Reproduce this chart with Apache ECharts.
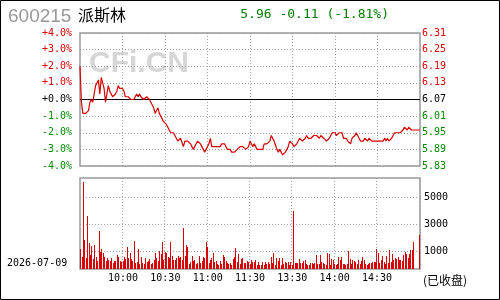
<!DOCTYPE html>
<html><head><meta charset="utf-8">
<script src="https://cdn.jsdelivr.net/npm/echarts@6/dist/echarts.min.js"></script>
<style>
html,body{margin:0;padding:0;background:#fff;}
#c{width:500px;height:300px;}
</style></head><body>
<div id="c"></div>
<script>
// ---- data ----
const stockCode = '600215';
const stockName = '派斯林';
const quoteText = '5.96 -0.11 (-1.81%)';
const tradeDate = '2026-07-09';
const statusText = '(已收盘)';
const watermark = 'CFi.CN';
const prevClose = 6.07;
const pctTicks = [-4, -3, -2, -1, 0, 1, 2, 3, 4];
const priceTicks = [5.83, 5.89, 5.95, 6.01, 6.07, 6.13, 6.19, 6.25, 6.31];
const volTicks = [1000, 3000, 5000];
const timeLabels = ['10:00', '10:30', '11:00', '11:30', '13:30', '14:00', '14:30'];

const prices = [
6.19,6.06,6.02,6.02,6.02,6.02,6.03,6.06,6.07,6.06,
6.09,6.12,6.13,6.14,6.09,6.15,6.13,6.11,6.06,6.09,
6.12,6.10,6.09,6.08,6.08,6.09,6.10,6.12,6.11,6.11,
6.11,6.10,6.08,6.08,6.08,6.08,6.07,6.07,6.07,6.07,
6.09,6.08,6.09,6.08,6.08,6.07,6.07,6.08,6.08,6.07,
6.06,6.05,6.04,6.02,6.03,6.04,6.02,6.01,6.00,5.99,
5.99,5.98,5.97,5.96,5.95,5.95,5.95,5.94,5.93,5.92,
5.92,5.93,5.93,5.90,5.92,5.92,5.92,5.92,5.91,5.90,
5.89,5.90,5.91,5.92,5.92,5.91,5.90,5.89,5.88,5.89,
5.89,5.91,5.93,5.90,5.90,5.90,5.90,5.90,5.90,5.90,
5.91,5.91,5.91,5.90,5.89,5.89,5.89,5.88,5.88,5.88,
5.88,5.89,5.89,5.90,5.90,5.90,5.90,5.89,5.89,5.90,
5.92,5.92,5.90,5.91,5.90,5.89,5.89,5.89,5.89,5.89,
5.91,5.91,5.91,5.91,5.92,5.94,5.94,5.92,5.92,5.89,
5.88,5.89,5.88,5.87,5.87,5.88,5.89,5.90,5.92,5.92,
5.91,5.90,5.90,5.91,5.92,5.93,5.93,5.92,5.92,5.93,
5.94,5.93,5.93,5.93,5.93,5.94,5.94,5.94,5.94,5.93,
5.94,5.94,5.93,5.93,5.92,5.92,5.93,5.94,5.95,5.95,
5.95,5.94,5.94,5.95,5.95,5.95,5.93,5.93,5.93,5.92,
5.92,5.91,5.93,5.93,5.94,5.95,5.95,5.93,5.92,5.92,
5.92,5.93,5.93,5.92,5.93,5.93,5.92,5.92,5.92,5.92,
5.92,5.92,5.92,5.92,5.92,5.93,5.92,5.93,5.92,5.92,
5.93,5.94,5.95,5.95,5.95,5.95,5.95,5.95,5.96,5.97,
5.97,5.96,5.97,5.97,5.96,5.96,5.96,5.96,5.96,5.96,
5.96
];

const volumes = [
1506,900,6444,2148,800,3926,1926,1012,1704,741,
1778,889,600,2815,1284,1481,1210,889,593,815,
667,568,815,444,568,568,1037,889,593,518,
600,914,741,1630,840,1160,741,593,2074,450,
518,1481,395,889,420,370,790,500,617,741,
395,469,667,1160,840,593,1309,1136,2000,667,
1259,1210,864,815,2000,963,667,667,790,963,
815,889,667,3037,963,1778,1630,370,500,963,
593,667,370,444,963,450,593,889,815,2000,
1630,444,667,815,1185,518,593,370,296,593,
370,1037,889,593,444,395,444,296,741,889,
1556,518,1111,370,741,815,444,444,593,518,
370,
667,518,518,667,296,518,296,296,518,296,
518,370,518,370,889,444,1185,296,815,593,
815,296,815,370,518,444,518,296,518,296,
4296,420,444,444,741,444,444,593,667,370,
296,296,444,444,370,420,1037,370,
370,1037,518,444,370,296,1185,1111,296,741,
667,370,296,370,889,667,889,370,370,296,
370,1309,741,370,667,593,518,370,667,370,
593,889,667,370,296,370,444,444,518,518,
518,1481,1185,444,667,963,518,370,963,
444,1407,518,1111,667,815,741,889,667,667,
593,1037,1259,1111,815,1111,1407,1407,2000,
0,0,0,2518
];

// time categories of the trading day (09:30-11:30, 13:01-15:00)
function hm(m){const h=Math.floor(m/60), mm=m%60; return (h<10?'0':'')+h+':'+(mm<10?'0':'')+mm;}
const times = [];
for (let m = 570; m <= 690; m++) times.push(hm(m));
for (let m = 781; m <= 900; m++) times.push(hm(m));

// table for the custom bar series: [category index, volume]
const volTable = volumes.map((v, i) => [i, v]);

// ---- styles ----
const RED = '#d80000', GREEN = '#008c00';
const MONO = '"DejaVu Sans Mono", monospace';
const dotted = { color: '#a0a0a0', width: 1, type: [1, 2] };
const isTimeTick = (i) => timeLabels.indexOf(times[i]) >= 0;

const chart = echarts.init(document.getElementById('c'), null, { renderer: 'canvas' });

function renderVolBar(params, api) {
  const top = api.coord([api.value(0), api.value(1)]);
  const base = api.coord([api.value(0), 0]);
  const x = Math.floor(top[0]);
  const y0 = Math.round(base[1]);
  const y1 = Math.round(top[1]);
  if (y0 - y1 <= 0) return null;
  return { type: 'rect', shape: { x: x, y: y1, width: 1, height: y0 - y1 }, style: { fill: RED } };
}

const option = {
  animation: false,
  backgroundColor: '#fff',
  grid: [
    { left: 80, top: 33, width: 340, height: 133, show: true, borderColor: '#999', borderWidth: 1.5, backgroundColor: 'transparent' },
    { left: 80, top: 178, width: 340, height: 91, show: true, borderColor: '#999', borderWidth: 1.5, backgroundColor: 'transparent' }
  ],
  xAxis: [
    { type: 'category', gridIndex: 0, data: times, boundaryGap: false,
      axisLine: { show: false }, axisTick: { show: false }, axisLabel: { show: false },
      splitLine: { show: true, interval: (i) => isTimeTick(i), lineStyle: dotted } },
    { type: 'category', gridIndex: 1, data: times, boundaryGap: true,
      axisLine: { show: false }, axisTick: { show: false },
      axisLabel: { show: true, interval: (i) => isTimeTick(i), color: '#000', fontFamily: MONO, fontSize: 10, margin: 4 },
      splitLine: { show: true, interval: (i) => isTimeTick(i), lineStyle: dotted } }
  ],
  yAxis: [
    { type: 'value', gridIndex: 0, position: 'left', min: pctTicks[0], max: pctTicks[pctTicks.length-1], interval: 1,
      axisLine: { show: false }, axisTick: { show: false },
      axisLabel: { margin: 8, fontFamily: MONO, fontSize: 10,
        formatter: (v) => (v >= 0 ? '+' : '') + Number(v).toFixed(1) + '%',
        color: (v) => { v = Number(v); return v > 0 ? RED : (v < 0 ? GREEN : '#000'); } },
      splitLine: { show: true, lineStyle: dotted } },
    { type: 'value', gridIndex: 0, position: 'right', min: priceTicks[0], max: priceTicks[priceTicks.length-1],
      axisLine: { show: false }, axisTick: { show: false, customValues: priceTicks },
      axisLabel: { customValues: priceTicks, margin: 2, fontFamily: MONO, fontSize: 10,
        formatter: (v) => Number(v).toFixed(2),
        color: (v) => { v = Number(v); return v > prevClose + 0.005 ? RED : (v < prevClose - 0.005 ? GREEN : '#000'); } },
      splitLine: { show: false } },
    { type: 'value', gridIndex: 1, position: 'left', min: 0, max: 6740, show: false, splitLine: { show: false } },
    { type: 'value', gridIndex: 1, position: 'right', min: -333, max: 6407,
      axisLine: { show: false }, axisTick: { show: false, customValues: volTicks },
      axisLabel: { customValues: volTicks, margin: 4, fontFamily: MONO, fontSize: 10, color: '#000',
        formatter: (v) => String(Math.round(v)) },
      splitLine: { show: true, lineStyle: dotted } }
  ],
  series: [
    { type: 'line', xAxisIndex: 0, yAxisIndex: 1, data: prices, showSymbol: false, symbol: 'none',
      lineStyle: { color: RED, width: 1.2 }, z: 5,
      markLine: { silent: true, symbol: 'none', label: { show: false },
        lineStyle: { color: '#000', width: 1, type: 'solid' }, data: [{ yAxis: prevClose }] } },
    { type: 'custom', xAxisIndex: 1, yAxisIndex: 2, data: volTable, renderItem: renderVolBar,
      encode: { x: 0, y: 1 }, z: 5, clip: true }
  ],
  graphic: [
    { type: 'rect', shape: { x: 0.5, y: 0.5, width: 499, height: 299 }, style: { fill: null, stroke: '#000', lineWidth: 1 }, z: 100 },
    { type: 'text', z: -10, style: { text: watermark, x: 89, y: 64, font: 'bold 30px "Liberation Sans", Arial', fill: '#d6d6d6', verticalAlign: 'middle' } },
    { type: 'text', style: { text: stockCode, x: 8, y: 17, font: '19px "Liberation Sans", Arial', fill: '#999', verticalAlign: 'middle' } },
    { type: 'text', style: { text: stockName, x: 78, y: 15, font: '16px "Noto Sans CJK SC"', fill: '#000', verticalAlign: 'middle' } },
    { type: 'text', style: { text: quoteText, x: 389, y: 15, font: '13px "DejaVu Sans Mono"', fill: '#008000', align: 'right', verticalAlign: 'middle' } },
    { type: 'text', style: { text: tradeDate, x: 7, y: 263, font: '10px "DejaVu Sans Mono"', fill: '#000', verticalAlign: 'middle' } },
    { type: 'text', style: { text: statusText, x: 423, y: 280, font: '12px "Noto Sans CJK SC"', fill: '#000', verticalAlign: 'middle' } }
  ]
};
chart.setOption(option);
</script>
</body></html>
